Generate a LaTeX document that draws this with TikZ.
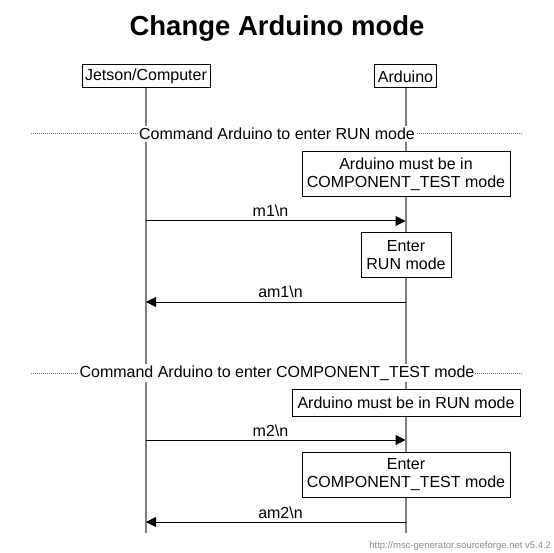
\documentclass[tikz,border=0pt]{standalone}
\usepackage{fontspec}
\setmainfont{Liberation Sans}
\usetikzlibrary{arrows.meta}
\begin{document}
\begin{tikzpicture}[x=1pt,y=-1pt,
  every node/.style={inner sep=0pt,outer sep=0pt,font=\fontsize{16}{18}\selectfont},
  entity/.style={draw=black,line width=1pt,fill=white,minimum height=23pt},
  lifeline/.style={draw=black!50,line width=2pt},
  notebox/.style={draw=black,line width=1pt,fill=white,align=center},
  sepline/.style={draw=black!55,line width=1pt,dash pattern=on 1pt off 1pt},
  septext/.style={fill=white,inner xsep=1pt,inner ysep=2pt},
  msg/.style={draw=black,line width=1pt,-{Triangle[length=10pt,width=10pt]}},
  msglabel/.style={anchor=base}
]
\useasboundingbox (0,0) rectangle (554,553);
\fill[white] (0,0) rectangle (554,553);

% title
\node[font=\fontsize{27.5}{30}\selectfont\bfseries] (title) at (277,28) {Change Arduino mode};

% entities
\node[entity,minimum width=128pt] (jet) at (146,76.5) {Jetson/Computer};
\node[entity,minimum width=62pt] (ard) at (405.5,76.5) {Arduino};
\coordinate (jetend) at (146,533);
\coordinate (ardend) at (405.5,533);
\draw[lifeline] (jet.south) -- (jetend);
\draw[lifeline] (ard.south) -- (ardend);

% separator 1
\coordinate (s1l) at (31,134);
\coordinate (s1r) at (522,134);
\draw[sepline] (s1l) -- (s1r);
\node[septext] (sep1) at (277,134) {Command Arduino to enter RUN mode};

% note 1
\node[notebox,minimum width=208pt,minimum height=45pt] (n1) at (406,174.5) {Arduino must be in\\COMPONENT\_TEST mode};

% m1
\coordinate (j1) at (146,221);
\coordinate (a1) at (405.5,221);
\draw[msg] (j1) -- (a1);
\node[msglabel] (l1) at (270.5,217) {m1\textbackslash n};

% note 2
\node[notebox,minimum width=90pt,minimum height=45pt] (n2) at (406,255.5) {Enter\\RUN mode};

% am1
\coordinate (j2) at (146,302);
\coordinate (a2) at (405.5,302);
\draw[msg] (a2) -- (j2);
\node[msglabel] (l2) at (280.5,298) {am1\textbackslash n};

% separator 2
\coordinate (s2l) at (31,373);
\coordinate (s2r) at (522,373);
\draw[sepline] (s2l) -- (s2r);
\node[septext] (sep2) at (277,373) {Command Arduino to enter COMPONENT\_TEST mode};

% note 3
\node[notebox,minimum width=228pt,minimum height=27.5pt] (n3) at (406,403) {Arduino must be in RUN mode};

% m2
\coordinate (j3) at (146,440);
\coordinate (a3) at (405.5,440);
\draw[msg] (j3) -- (a3);
\node[msglabel] (l3) at (270.5,436) {m2\textbackslash n};

% note 4
\node[notebox,minimum width=208pt,minimum height=45pt] (n4) at (406,474.5) {Enter\\COMPONENT\_TEST mode};

% am2
\coordinate (j4) at (146,522);
\coordinate (a4) at (405.5,522);
\draw[msg] (a4) -- (j4);
\node[msglabel] (l4) at (280.5,518) {am2\textbackslash n};

% footer
\node[anchor=base east,text=black!45,font=\fontsize{9.5}{11}\selectfont] (foot) at (551,548) {http://msc-generator.sourceforge.net v5.4.2};
\end{tikzpicture}
\end{document}
